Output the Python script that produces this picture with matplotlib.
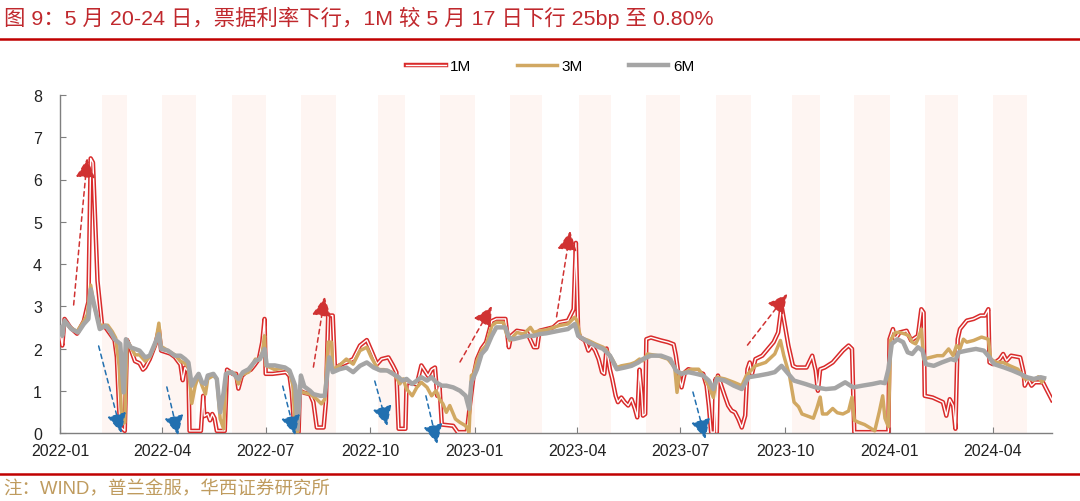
import pandas as pd
import matplotlib
matplotlib.use("Agg")
import matplotlib.pyplot as plt
import matplotlib.dates as mdates
import matplotlib.patheffects as pe
from matplotlib.lines import Line2D

# fonts: Arial-like for latin, CJK font for the Chinese text
plt.rcParams['font.family'] = ['Liberation Sans', 'Noto Sans CJK SC']

# ---- data (days after 2022-01-01, rate in %) ----
start = pd.Timestamp("2022-01-01")

days_1m = [0, 2, 4, 9, 15, 18, 21, 24, 25, 27, 29, 33, 37, 40, 44, 48, 50, 52, 53, 57,
           59, 62, 66, 70, 73, 75, 79, 84, 87, 89, 97, 101, 106, 108, 110, 113, 114, 124, 126, 127,
           130, 132, 134, 136, 138, 145, 147, 152, 155, 157, 160, 164, 168, 171, 175, 178, 180, 181, 187, 193,
           199, 202, 204, 206, 208, 210, 211, 215, 220, 223, 226, 232, 234, 235, 236, 240, 242, 246, 252, 258,
           264, 270, 274, 279, 283, 289, 293, 296, 298, 304, 305, 314, 318, 324, 327, 330, 332, 334, 336, 346,
           350, 358, 361, 364, 367, 371, 375, 380, 384, 392, 395, 397, 402, 411, 417, 420, 422, 428, 434, 439,
           447, 452, 454, 456, 458, 462, 465, 468, 471, 474, 477, 479, 481, 484, 486, 489, 491, 494, 497, 500,
           503, 506, 508, 510, 512, 513, 515, 516, 520, 529, 535, 540, 542, 544, 547, 550, 553, 558, 562, 566,
           569, 571, 573, 576, 577, 578, 579, 582, 585, 588, 591, 594, 597, 600, 603, 605, 607, 609, 612, 618,
           623, 628, 632, 635, 638, 641, 645, 648, 657, 662, 665, 667, 669, 673, 680, 689, 694, 697, 699, 729,
           730, 733, 735, 739, 745, 749, 755, 758, 760, 761, 768, 777, 780, 783, 786, 788, 790, 792, 798, 804,
           810, 814, 817, 818, 821, 827, 830, 833, 837, 845, 848, 849, 852, 855, 858, 865, 868, 873]
rate_1m = [2.40, 2.07, 2.70, 2.50, 2.35, 2.50, 2.65, 3.00, 3.10, 6.50, 6.40, 3.60, 2.55, 2.50, 2.35, 2.20, 1.80, 0.60, 0.15, 0.05,
           2.20, 2.00, 1.70, 1.65, 1.50, 1.55, 1.75, 2.10, 2.45, 1.95, 1.88, 1.80, 1.62, 1.25, 1.55, 1.45, 0.05, 0.05, 0.88, 0.40,
           0.45, 0.30, 0.45, 0.35, 0.05, 0.05, 1.50, 1.40, 1.40, 1.05, 1.35, 1.45, 1.50, 1.60, 1.75, 2.15, 2.70, 1.40, 1.40, 1.42,
           1.44, 1.35, 0.96, 0.17, 0.02, 0.02, 1.00, 0.95, 0.92, 0.73, 0.13, 0.13, 0.73, 1.75, 2.78, 2.78, 1.50, 1.60, 1.67, 1.75,
           2.07, 2.20, 1.95, 1.63, 1.75, 1.79, 1.60, 1.44, 0.10, 0.10, 1.20, 1.15, 1.60, 1.35, 1.50, 1.55, 0.88, 1.10, 0.20, 0.17,
           0.02, 0.02, 0.72, 1.36, 1.75, 2.00, 2.15, 2.65, 2.70, 2.70, 2.03, 2.30, 2.42, 2.38, 2.03, 2.03, 2.42, 2.46, 2.50, 2.62,
           2.66, 2.93, 4.50, 2.38, 2.26, 2.19, 1.95, 2.07, 1.95, 1.75, 1.44, 1.40, 2.00, 1.50, 1.28, 0.88, 0.73, 0.84, 0.73, 0.65,
           0.80, 0.57, 0.37, 1.50, 0.90, 0.41, 0.45, 2.22, 2.26, 2.19, 2.15, 2.10, 1.83, 1.44, 1.08, 1.44, 1.51, 1.47, 1.44, 1.40,
           1.12, 0.65, 0.02, 0.02, 1.28, 0.02, 1.36, 1.12, 0.88, 0.65, 0.53, 0.49, 0.33, 0.13, 0.41, 1.51, 1.67, 1.40, 1.75, 1.83,
           1.99, 2.15, 2.38, 3.01, 2.54, 2.07, 1.59, 1.55, 1.55, 1.83, 1.48, 1.00, 1.51, 1.55, 1.67, 1.95, 2.07, 1.99, 0.02, 0.02,
           2.22, 2.46, 2.22, 2.38, 2.42, 2.19, 2.30, 2.93, 2.85, 0.88, 0.84, 0.73, 0.41, 0.80, 0.65, 0.10, 2.22, 2.46, 2.66, 2.70,
           2.78, 2.78, 2.93, 1.67, 1.63, 1.75, 1.87, 1.71, 1.83, 1.79, 1.44, 1.12, 1.28, 1.12, 1.20, 1.20, 1.04, 0.78]

days_3m = [0, 2, 4, 9, 15, 21, 24, 27, 30, 35, 42, 46, 49, 52, 54, 55, 57, 59, 62, 66,
           70, 75, 79, 84, 87, 89, 95, 101, 106, 110, 113, 116, 119, 122, 125, 128, 130, 135, 138, 141,
           144, 146, 148, 154, 157, 160, 166, 172, 175, 178, 180, 181, 189, 198, 202, 205, 207, 209, 211, 214,
           220, 226, 230, 233, 236, 239, 240, 246, 252, 258, 264, 270, 274, 280, 285, 292, 296, 299, 302, 305,
           310, 314, 318, 323, 327, 331, 334, 337, 340, 343, 348, 352, 357, 360, 362, 364, 367, 371, 375, 380,
           384, 390, 393, 396, 402, 408, 414, 417, 422, 428, 439, 447, 453, 455, 458, 465, 471, 478, 481, 486,
           490, 494, 502, 506, 510, 513, 517, 526, 535, 541, 543, 545, 550, 556, 562, 568, 572, 575, 578, 585,
           593, 600, 604, 612, 621, 629, 634, 637, 642, 646, 650, 653, 658, 663, 666, 669, 671, 675, 680, 684,
           689, 694, 697, 699, 703, 708, 713, 717, 721, 724, 726, 729, 731, 735, 739, 744, 747, 750, 753, 755,
           758, 760, 766, 772, 777, 782, 786, 789, 792, 795, 798, 804, 811, 817, 819, 824, 830, 836, 843, 849,
           854, 857, 861, 864, 866]
rate_3m = [2.45, 2.35, 2.65, 2.50, 2.40, 2.65, 2.80, 3.50, 3.00, 2.55, 2.55, 2.40, 2.25, 1.60, 0.50, 0.22, 0.25, 2.20, 2.05, 1.85,
           1.85, 1.70, 1.80, 2.10, 2.60, 2.05, 1.95, 1.85, 1.70, 1.65, 1.55, 0.70, 1.12, 1.36, 1.12, 0.92, 1.28, 1.36, 1.28, 0.33,
           0.10, 1.36, 1.44, 1.40, 1.16, 1.38, 1.44, 1.75, 1.72, 1.90, 2.30, 1.60, 1.50, 1.55, 1.44, 1.12, 0.17, 0.02, 1.00, 0.96,
           0.92, 0.80, 0.69, 0.80, 2.15, 2.15, 1.50, 1.60, 1.75, 1.63, 1.95, 2.03, 1.79, 1.50, 1.50, 1.44, 1.32, 1.16, 1.28, 1.04,
           0.88, 1.08, 1.20, 1.08, 0.88, 1.00, 0.80, 0.69, 0.49, 0.65, 0.33, 0.25, 0.17, 0.02, 1.36, 1.40, 1.71, 1.95, 2.07, 2.54,
           2.62, 2.62, 2.34, 2.19, 2.38, 2.34, 2.50, 2.38, 2.42, 2.44, 2.54, 2.58, 2.74, 2.66, 2.26, 2.19, 2.11, 2.03, 1.95, 1.75,
           1.55, 1.59, 1.63, 1.67, 1.75, 1.71, 1.87, 1.83, 1.75, 1.55, 0.96, 1.40, 1.44, 1.51, 1.51, 1.28, 1.04, 0.84, 1.32, 1.28,
           1.20, 1.12, 1.36, 1.59, 1.67, 1.87, 2.19, 1.83, 1.36, 0.73, 0.62, 0.45, 0.40, 0.35, 0.58, 0.85, 0.45, 0.45, 0.58, 0.48,
           0.45, 0.52, 0.85, 0.30, 0.25, 0.20, 0.12, 0.05, 0.50, 0.88, 0.35, 0.15, 2.20, 2.38, 2.38, 2.34, 2.30, 2.15, 2.11, 2.22,
           2.46, 1.75, 1.79, 1.83, 1.83, 1.99, 1.83, 2.07, 1.99, 2.22, 2.15, 2.19, 2.27, 2.22, 1.75, 1.67, 1.67, 1.59, 1.51, 1.28,
           1.28, 1.25, 1.33, 1.20, 1.28]

days_6m = [0, 2, 4, 10, 16, 21, 25, 27, 31, 35, 40, 44, 48, 53, 56, 58, 62, 66, 70, 75,
           79, 84, 87, 89, 95, 101, 106, 110, 113, 116, 119, 122, 125, 128, 130, 135, 138, 141, 144, 146,
           151, 157, 161, 166, 172, 176, 180, 182, 189, 198, 202, 207, 209, 212, 215, 220, 223, 229, 233, 237,
           240, 246, 252, 258, 264, 270, 276, 282, 288, 293, 298, 301, 305, 310, 314, 318, 323, 327, 331, 336,
           340, 346, 352, 357, 360, 362, 364, 367, 371, 375, 380, 384, 392, 395, 399, 405, 411, 417, 422, 428,
           439, 447, 453, 456, 465, 471, 478, 484, 490, 497, 503, 509, 513, 520, 529, 537, 542, 547, 553, 560,
           566, 571, 575, 578, 585, 593, 600, 606, 615, 623, 629, 635, 641, 646, 656, 665, 674, 682, 691, 698,
           706, 715, 722, 726, 729, 732, 737, 742, 746, 750, 755, 759, 762, 769, 776, 784, 788, 791, 798, 806,
           813, 818, 822, 831, 838, 845, 851, 857, 863, 866]
rate_6m = [2.50, 2.30, 2.66, 2.46, 2.38, 2.58, 2.70, 3.40, 2.93, 2.46, 2.54, 2.42, 2.22, 2.11, 0.96, 2.22, 2.03, 1.99, 1.95, 1.79,
           1.83, 2.15, 2.34, 1.99, 1.95, 1.83, 1.83, 1.75, 1.67, 1.12, 1.28, 1.40, 1.20, 1.16, 1.36, 1.40, 1.28, 0.49, 0.96, 1.40,
           1.44, 1.28, 1.44, 1.51, 1.71, 1.75, 1.99, 1.60, 1.60, 1.55, 1.48, 1.12, 0.10, 1.36, 1.10, 1.00, 0.92, 0.88, 0.88, 1.79,
           1.44, 1.51, 1.55, 1.44, 1.59, 1.67, 1.55, 1.48, 1.48, 1.40, 1.32, 1.24, 1.28, 1.16, 1.24, 1.32, 1.24, 1.32, 1.20, 1.12,
           1.12, 1.08, 1.00, 0.88, 0.57, 1.20, 1.32, 1.51, 1.87, 1.99, 2.30, 2.50, 2.50, 2.26, 2.22, 2.26, 2.30, 2.30, 2.34, 2.36,
           2.42, 2.46, 2.58, 2.30, 2.15, 2.07, 1.99, 1.83, 1.51, 1.55, 1.59, 1.67, 1.75, 1.83, 1.83, 1.75, 1.48, 1.40, 1.44, 1.40,
           1.36, 1.24, 1.04, 1.28, 1.24, 1.12, 1.04, 1.32, 1.36, 1.40, 1.44, 1.59, 1.40, 1.24, 1.16, 1.08, 1.04, 1.06, 1.20, 1.08,
           1.12, 1.16, 1.20, 1.18, 1.51, 2.11, 2.22, 2.15, 1.91, 1.87, 2.03, 1.95, 1.63, 1.59, 1.67, 1.75, 1.72, 1.91, 1.95, 1.99,
           1.95, 1.79, 1.63, 1.55, 1.48, 1.40, 1.32, 1.28, 1.32, 1.30]

# even months are shaded (start, end)
band_start = ["2022-02-07", "2022-04-01", "2022-06-01", "2022-08-01", "2022-10-08", "2022-12-01", "2023-02-01",
              "2023-04-03", "2023-06-01", "2023-08-01", "2023-10-07", "2023-12-01", "2024-02-01", "2024-04-01"]
band_end = ["2022-03-01", "2022-05-01", "2022-07-01", "2022-09-01", "2022-11-01", "2023-01-01", "2023-03-01",
            "2023-05-01", "2023-07-01", "2023-09-01", "2023-11-01", "2024-01-01", "2024-03-01", "2024-05-01"]

# annotation arrows: (tail day, tail value, head day, head value)
up_arrows = [(12, 3.03, 24, 6.50), (223, 1.56, 233, 3.22), (352, 1.68, 380, 3.00),
             (437, 2.75, 449, 4.78), (605, 2.08, 640, 3.29)]
down_arrows = [(34, 2.06, 54, 0.00), (94, 1.09, 104, -0.05), (196, 1.11, 207, -0.05),
               (277, 1.23, 288, 0.17), (322, 0.88, 332, -0.26), (557, 0.97, 568, -0.14)]

title = "图 9：5 月 20-24 日，票据利率下行，1M 较 5 月 17 日下行 25bp 至 0.80%"
source = "注：WIND，普兰金服，华西证券研究所"

red = "#D92B2B"
gold = "#D1A862"
grey = "#A5A5A5"


def to_dates(days):
    return start + pd.to_timedelta(days, unit="D")


fig = plt.figure(figsize=(10.8, 5.02), dpi=100)
ax = fig.add_axes([60 / 1080, 1 - 434 / 502, 992 / 1080, 338 / 502])

# pale pink shading
for s, e in zip(band_start, band_end):
    ax.axvspan(pd.Timestamp(s), pd.Timestamp(e), color="#FEF5F2", lw=0, zorder=0)

# 1M drawn as a hollow red line
ax.plot(to_dates(days_1m), rate_1m, color="white", lw=1.0, label="1M", zorder=3,
        path_effects=[pe.Stroke(linewidth=3.2, foreground=red), pe.Normal()])
ax.plot(to_dates(days_3m), rate_3m, color=gold, lw=2.5, label="3M", zorder=4)
ax.plot(to_dates(days_6m), rate_6m, color=grey, lw=3.2, label="6M", zorder=5)

# dashed arrows
for x0, y0, x1, y1 in up_arrows:
    ax.annotate("", xy=(start + pd.Timedelta(days=x1), y1), xytext=(start + pd.Timedelta(days=x0), y0),
                arrowprops=dict(arrowstyle="-|>,head_length=0.8,head_width=0.4", color="#D03232",
                                lw=1.1, linestyle=(0, (3, 2.5)), shrinkA=0, shrinkB=0, mutation_scale=15),
                annotation_clip=False, zorder=6)
for x0, y0, x1, y1 in down_arrows:
    ax.annotate("", xy=(start + pd.Timedelta(days=x1), y1), xytext=(start + pd.Timedelta(days=x0), y0),
                arrowprops=dict(arrowstyle="-|>,head_length=0.8,head_width=0.4", color="#2270B0",
                                lw=1.1, linestyle=(0, (3, 2.5)), shrinkA=0, shrinkB=0, mutation_scale=15),
                annotation_clip=False, zorder=6)

# axes styling
ax.set_ylim(0, 8)
ax.set_xlim(pd.Timestamp("2022-01-01"), pd.Timestamp("2024-05-23"))
ax.set_yticks(range(0, 9))
ax.xaxis.set_major_locator(mdates.MonthLocator(bymonth=[1, 4, 7, 10]))
ax.xaxis.set_major_formatter(mdates.DateFormatter("%Y-%m"))
for side in ["top", "right"]:
    ax.spines[side].set_visible(False)
for side in ["left", "bottom"]:
    ax.spines[side].set_color("#7F7F7F")
    ax.spines[side].set_linewidth(1.0)
ax.tick_params(axis="both", direction="in", length=4, color="#7F7F7F", labelsize=11.5, labelcolor="#222222")
ax.tick_params(axis="x", pad=7)
ax.tick_params(axis="y", pad=13)

leg = fig.legend(loc="center", bbox_to_anchor=(0.5 + 10 / 1080, 1 - 67 / 502), ncol=3, frameon=False,
                 fontsize=11, handlelength=2.6, columnspacing=3.0, handletextpad=0.3)

# header / footer
fig.text(0.004, 1 - 18 / 502, title, color="#C0282D", fontsize=15.4, va="center", ha="left")
fig.add_artist(Line2D([0, 1], [1 - 40 / 502, 1 - 40 / 502], transform=fig.transFigure, color="#C00000", lw=1.8))
fig.add_artist(Line2D([0, 1], [1 - 475 / 502, 1 - 475 / 502], transform=fig.transFigure, color="#C00000", lw=1.8))
fig.text(0.003, 1 - 490 / 502, source, color="#BF9B5E", fontsize=13.3, va="center", ha="left")

fig.savefig("out.png", dpi=100)
